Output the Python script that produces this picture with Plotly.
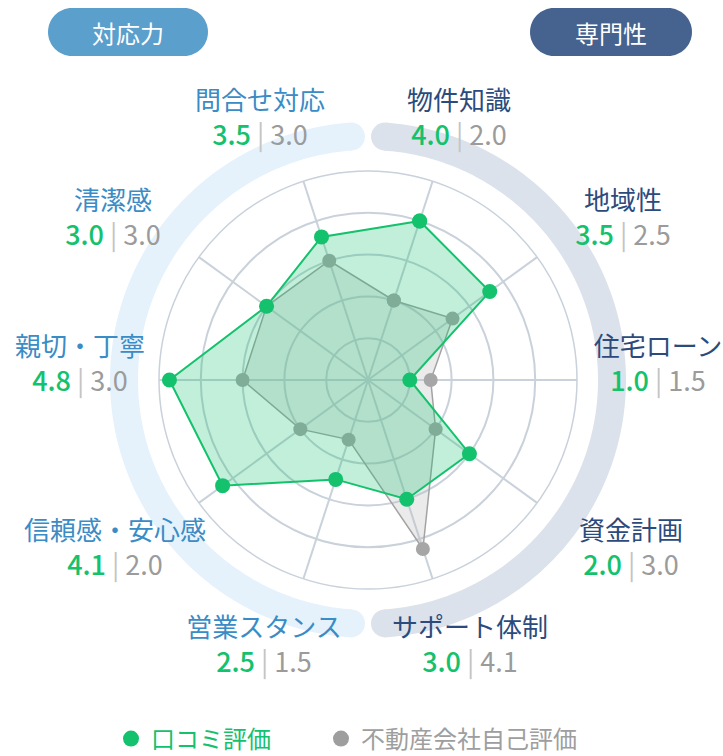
import math
import plotly.graph_objects as go

# ---------------- data ----------------
categories = ["物件知識", "地域性", "住宅ローン", "資金計画", "サポート体制",
              "営業スタンス", "信頼感・安心感", "親切・丁寧", "清潔感", "問合せ対応"]
# values as drawn in the chart
review_scores = [4.0, 3.6, 1.0, 3.0, 3.0, 2.5, 4.3, 4.75, 3.0, 3.6]
self_scores = [2.0, 2.5, 1.5, 2.0, 4.25, 1.5, 2.0, 3.0, 3.0, 3.0]
# values as printed in the labels
review_labels = ["4.0", "3.5", "1.0", "2.0", "3.0", "2.5", "4.1", "4.8", "3.0", "3.5"]
self_labels = ["2.0", "2.5", "1.5", "3.0", "4.1", "1.5", "2.0", "3.0", "3.0", "3.0"]
series_names = ["口コミ評価", "不動産会社自己評価"]
group_names = ["対応力", "専門性"]
radial_ticks = [1, 2, 3, 4, 5]

# ---------------- style ----------------
W, H = 723, 756
CX, CY = 368, 380          # chart centre in px
R_MAIN = 209               # radius of the data polar in px
R_DECO = 320               # radius of decoration polar in px
GREEN = "#14c16c"
GRAY = "#a6a6a6"
NAVY = "#2c4b7c"
LBLUE = "#3a8cc6"
FONT = "Noto Sans CJK JP, Noto Sans, sans-serif"
name_colors = [NAVY] * 5 + [LBLUE] * 5
# label block offsets from chart centre (px, y down)
label_dx = [91, 255, 290, 263, 102, -104, -253, -288, -255, -108]
label_dy = [-262, -162, -16, 168, 265, 265, 168, -16, -162, -262]
TEXT_DY = 3


def dom(c, r, size, flip=False):
    if flip:
        c = size - c
    return [(c - r) / size, (c + r) / size]


fig = go.Figure()

# decorative arcs (polar2)
arc_r = 244 / R_DECO
for t0, t1, col in [(184, 356, "#e5f2fc"), (4, 176, "#dce2eb")]:
    th = list(range(t0, t1 + 1))
    fig.add_trace(go.Scatterpolar(r=[arc_r] * len(th), theta=th, mode="lines",
                                  line=dict(color=col, width=28), subplot="polar2",
                                  showlegend=False, hoverinfo="skip"))
    fig.add_trace(go.Scatterpolar(r=[arc_r, arc_r], theta=[t0, t1], mode="markers",
                                  marker=dict(color=col, size=28), subplot="polar2",
                                  showlegend=False, hoverinfo="skip"))

# labels
texts, lr, lt = [], [], []
for i, c in enumerate(categories):
    texts.append(
        f"<span style='font-size:26px;color:{name_colors[i]}'>{c}</span><br>"
        f"<span style='color:{GREEN};font-weight:500'>{review_labels[i]}</span>"
        f"<span style='color:#c4c4c4'> | </span>"
        f"<span style='color:#9b9b9b'>{self_labels[i]}</span>")
    dx, dy = label_dx[i], label_dy[i] + TEXT_DY
    lr.append(math.hypot(dx, dy) / R_DECO)
    lt.append(math.degrees(math.atan2(dx, -dy)) % 360)
fig.add_trace(go.Scatterpolar(r=lr, theta=lt,
                              mode="text", text=texts, textposition="middle center",
                              textfont=dict(size=27, family=FONT), subplot="polar2",
                              showlegend=False, hoverinfo="skip", cliponaxis=False))

# data traces (polar)
cats_closed = categories + categories[:1]
fig.add_trace(go.Scatterpolar(r=self_scores + self_scores[:1], theta=cats_closed,
                              mode="lines+markers", fill="toself",
                              fillcolor="rgba(190,190,190,0.3)",
                              line=dict(color="#a3a3a3", width=1.5),
                              marker=dict(color=GRAY, size=14),
                              subplot="polar", showlegend=False))
fig.add_trace(go.Scatterpolar(r=review_scores + review_scores[:1], theta=cats_closed,
                              mode="lines+markers", fill="toself",
                              fillcolor="rgba(20,193,108,0.26)",
                              line=dict(color=GREEN, width=2),
                              marker=dict(color=GREEN, size=15),
                              subplot="polar", showlegend=False))

# legend entries
for nm, col, lg in zip(series_names, [GREEN, "#9e9e9e"], ["legend", "legend2"]):
    fig.add_trace(go.Scatterpolar(r=[None], theta=[categories[0]], mode="markers",
                                  marker=dict(color=col, size=20), subplot="polar",
                                  legend=lg,
                                  name=f"<span style='color:{col}'>{nm}</span>"))

axis_col = "#c9d1db"
leg_common = dict(orientation="h", xanchor="left", y=(H - 739) / H, yanchor="middle",
                  font=dict(size=24, family=FONT), bgcolor="rgba(0,0,0,0)",
                  itemsizing="trace")
fig.update_layout(
    width=W, height=H, margin=dict(l=0, r=0, t=0, b=0, autoexpand=False),
    paper_bgcolor="white", plot_bgcolor="white", template="none",
    font=dict(family=FONT),
    polar=dict(
        domain=dict(x=dom(CX, R_MAIN, W), y=dom(CY, R_MAIN, H, flip=True)),
        bgcolor="rgba(0,0,0,0)",
        radialaxis=dict(range=[0, 5], tickvals=radial_ticks, showticklabels=False,
                        ticks="", showline=False, gridcolor=axis_col, gridwidth=1.5),
        angularaxis=dict(rotation=72, direction="clockwise", showticklabels=False,
                         ticks="", showline=True, linecolor=axis_col, linewidth=1.5,
                         gridcolor=axis_col, gridwidth=1.5),
    ),
    polar2=dict(
        domain=dict(x=dom(CX, R_DECO, W), y=dom(CY, R_DECO, H, flip=True)),
        bgcolor="rgba(0,0,0,0)",
        radialaxis=dict(range=[0, 1], visible=False, showgrid=False, showline=False,
                        showticklabels=False, ticks=""),
        angularaxis=dict(rotation=90, direction="clockwise", visible=False,
                         showgrid=False, showline=False, showticklabels=False, ticks=""),
    ),
    legend=dict(x=(136 - 25) / W, **leg_common),
    legend2=dict(x=(346 - 25) / W, **leg_common),
    showlegend=True,
)

# group pills
k = 0.5523
for (cx, cy, hw, hh), col, txt in zip([(128, 32, 80, 24), (611, 32, 81, 24)],
                                      ["#5b9fcc", "#46638f"], group_names):
    s = hw - hh
    c = k * hh
    path = (f"M {-s},{-hh} L {s},{-hh} C {s + c},{-hh} {hw},{-c} {hw},0 "
            f"C {hw},{c} {s + c},{hh} {s},{hh} L {-s},{hh} "
            f"C {-s - c},{hh} {-hw},{c} {-hw},0 C {-hw},{-c} {-s - c},{-hh} {-s},{-hh} Z")
    fig.add_shape(type="path", xref="paper", yref="paper", xsizemode="pixel",
                  ysizemode="pixel", xanchor=cx / W, yanchor=1 - cy / H, path=path,
                  fillcolor=col, line=dict(width=0), layer="below")
    fig.add_annotation(x=cx / W, y=1 - cy / H, xref="paper", yref="paper", text=txt,
                       xanchor="center", yanchor="middle", showarrow=False,
                       font=dict(color="white", size=24, family=FONT))

fig.write_html("out.html")
